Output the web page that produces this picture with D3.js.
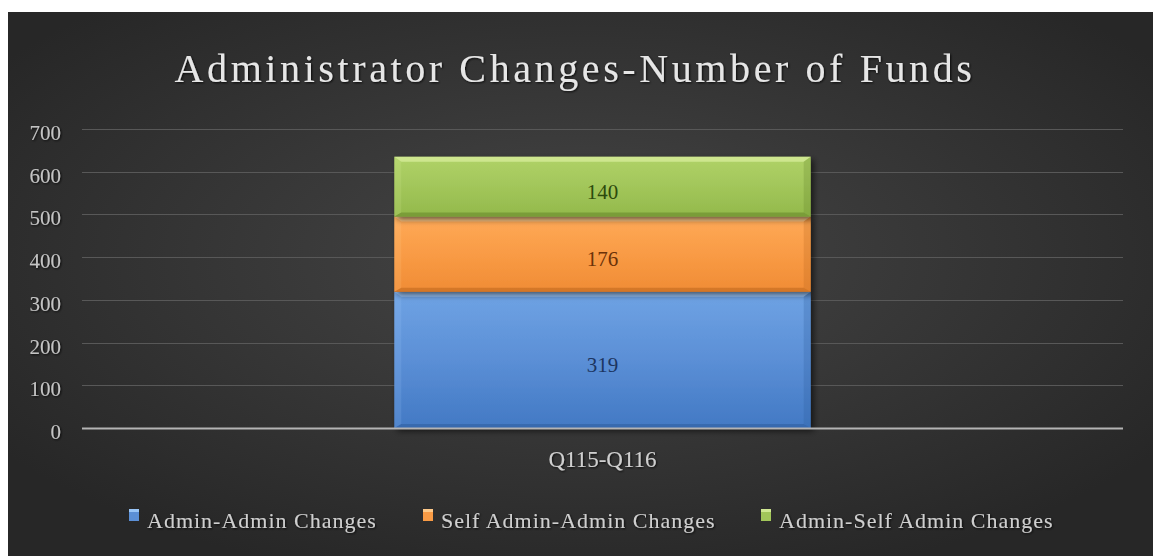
<!DOCTYPE html>
<html><head><meta charset="utf-8">
<script src="https://cdn.jsdelivr.net/npm/d3@7"></script>
<style>
html,body{margin:0;padding:0;background:#fff;}
svg{display:block;}
text{font-family:"Liberation Serif","DejaVu Serif",serif;}
</style></head>
<body>
<script>
const categories = ["Q115-Q116"];
const seriesNames = ["Admin-Admin Changes", "Self Admin-Admin Changes", "Admin-Self Admin Changes"];
const seriesValues = [[319], [176], [140]];
const yTicks = [0, 100, 200, 300, 400, 500, 600, 700];
const title = "Administrator Changes-Number of Funds";

const W = 1153, H = 556;
const svg = d3.select("body").append("svg").attr("width", W).attr("height", H);
const defs = svg.append("defs");

const bg = defs.append("radialGradient").attr("id","bg").attr("cx","50%").attr("cy","45%").attr("r","62%");
bg.append("stop").attr("offset","0%").attr("stop-color","#464646");
bg.append("stop").attr("offset","100%").attr("stop-color","#272727");
svg.append("rect").attr("x",8).attr("y",12).attr("width",W-8).attr("height",H-12).attr("fill","url(#bg)");

const colors = [
  {top:"#6fa3e4", mid:"#5b8fd6", bot:"#4279c4", hi:"#a9d2ff", lo:"#2b5a9a", label:"#1c3561"},
  {top:"#ffaa58", mid:"#f99b45", bot:"#f08c35", hi:"#ffd59a", lo:"#b8621a", label:"#6b3208"},
  {top:"#b0d268", mid:"#a2c65a", bot:"#93b94b", hi:"#dcf0a0", lo:"#5f7f26", label:"#2c4a0c"}
];
colors.forEach((c,i)=>{
  const g = defs.append("linearGradient").attr("id","g"+i).attr("x1",0).attr("y1",0).attr("x2",0).attr("y2",1);
  g.append("stop").attr("offset","0%").attr("stop-color",c.top);
  g.append("stop").attr("offset","50%").attr("stop-color",c.mid);
  g.append("stop").attr("offset","100%").attr("stop-color",c.bot);
});
const sh = defs.append("filter").attr("id","shadow").attr("x","-10%").attr("y","-10%").attr("width","130%").attr("height","130%");
sh.append("feDropShadow").attr("dx",3).attr("dy",3).attr("stdDeviation",3).attr("flood-color","#000").attr("flood-opacity",0.6);
const tsh = defs.append("filter").attr("id","tshadow");
tsh.append("feDropShadow").attr("dx",1).attr("dy",1).attr("stdDeviation",1).attr("flood-color","#000").attr("flood-opacity",0.8);

const x0 = 82, x1 = 1123, yBottom = 428, yTop = 129;
const x = d3.scaleBand().domain(categories).range([x0, x1]).paddingInner(0.6).paddingOuter(0.3);
const y = d3.scaleLinear().domain([0, 700]).range([yBottom, yTop]);

// title
svg.append("text").attr("x", 575).attr("y", 82).attr("text-anchor","middle")
  .attr("font-size", 40).attr("fill","#e6e6e6").attr("letter-spacing", 3.6)
  .attr("filter","url(#tshadow)").text(title);

// gridlines
const grid = svg.append("g");
grid.selectAll("line").data(yTicks.filter(d=>d>0)).join("line")
  .attr("x1", x0).attr("x2", x1).attr("y1", d=>Math.round(y(d))+0.5).attr("y2", d=>Math.round(y(d))+0.5)
  .attr("stroke","#585858").attr("stroke-width",1.2);

// y axis
const yAxis = d3.axisLeft(y).tickValues(yTicks).tickSize(0).tickPadding(0);
const ya = svg.append("g").attr("transform", `translate(61,0)`).call(yAxis);
ya.select(".domain").remove();
ya.selectAll("text").attr("font-size",21).attr("fill","#c4c4c4").attr("font-family","Liberation Serif, serif")
  .attr("dy","0.5em").attr("filter","url(#tshadow)");

// stacked bars
const stackData = categories.map((c,ci)=>{ const o={cat:c}; seriesNames.forEach((s,si)=>o[s]=seriesValues[si][ci]); return o; });
const stack = d3.stack().keys(seriesNames)(stackData);
const bars = svg.append("g");
stack.forEach((layer, si)=>{
  const c = colors[si];
  layer.forEach(d=>{
    const bx = x(d.data.cat), bw = x.bandwidth();
    const yt = y(d[1]), yb = y(d[0]);
    const g = bars.append("g");
    g.append("rect").attr("x",bx).attr("y",yt).attr("width",bw).attr("height",yb-yt)
      .attr("fill","url(#g"+si+")").attr("filter","url(#shadow)");
    g.append("path").attr("d",`M${bx},${yt} L${bx+bw},${yt} L${bx+bw-7},${yt+5} L${bx+7},${yt+5} Z`).attr("fill",c.hi).attr("opacity",0.7);
    g.append("path").attr("d",`M${bx},${yb} L${bx+bw},${yb} L${bx+bw-7},${yb-4} L${bx+7},${yb-4} Z`).attr("fill",c.lo).attr("opacity",0.5);
    g.append("path").attr("d",`M${bx},${yt} L${bx+7},${yt+5} L${bx+7},${yb-4} L${bx},${yb} Z`).attr("fill",c.hi).attr("opacity",0.15);
    g.append("path").attr("d",`M${bx+bw},${yt} L${bx+bw-7},${yt+5} L${bx+bw-7},${yb-4} L${bx+bw},${yb} Z`).attr("fill",c.lo).attr("opacity",0.25);
    g.append("text").attr("x",bx+bw/2).attr("y",(yt+yb)/2+12).attr("text-anchor","middle")
      .attr("font-size",21).attr("fill",c.label).text(d[1]-d[0]);
  });
});

// x axis
const xAxis = d3.axisBottom(x).tickSize(0).tickPadding(0);
const xa = svg.append("g").attr("transform",`translate(0,${yBottom})`).call(xAxis);
xa.select(".domain").attr("d",`M${x0},0.5H${x1}`).attr("stroke","#b4b4b4").attr("stroke-width",2.2);
xa.selectAll("text").attr("dy",0).attr("y",39).attr("font-size",23).attr("fill","#cfcfcf").attr("font-family","Liberation Serif, serif").attr("filter","url(#tshadow)");

// legend
const legendX = [129, 423, 761];
const lg = svg.append("g");
seriesNames.forEach((s,i)=>{
  const c = colors[i];
  lg.append("rect").attr("x",legendX[i]).attr("y",509).attr("width",10).attr("height",12).attr("fill",c.mid);
  lg.append("rect").attr("x",legendX[i]).attr("y",509).attr("width",10).attr("height",3).attr("fill",c.hi).attr("opacity",0.8);
  lg.append("text").attr("x",legendX[i]+18).attr("y",528).attr("font-size",22).attr("letter-spacing",1).attr("fill","#cfcfcf")
    .attr("filter","url(#tshadow)").text(s);
});
</script>
</body></html>
